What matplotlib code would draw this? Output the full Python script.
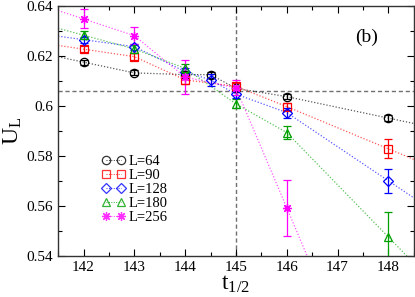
import matplotlib
matplotlib.use("Agg")
import matplotlib.pyplot as plt
import numpy as np

plt.rcParams['font.family'] = ['Liberation Serif', 'DejaVu Serif']
plt.rcParams['mathtext.fontset'] = 'custom'
plt.rcParams['mathtext.rm'] = 'Liberation Serif'
plt.rcParams['mathtext.it'] = 'Liberation Serif'

labels = ["L=64", "L=90", "L=128", "L=180", "L=256"]
colors = ["#000000", "#ff0000", "#0000ff", "#00a000", "#ff00ff"]
markers = ["o", "s", "D", "^", (8, 2, 0)]

x64 = [142, 143, 144, 144.5, 145, 146, 148]
y64 = [0.6175, 0.6132, 0.6125, 0.6125, 0.6070, 0.6037, 0.5951]
e64 = [0.0010, 0.0010, 0.0010, 0.0012, 0.0010, 0.0010, 0.0012]

x90 = [142, 143, 144, 145, 146, 148]
y90 = [0.6227, 0.6197, 0.6104, 0.6078, 0.5997, 0.5828]
e90 = [0.0012, 0.0014, 0.0015, 0.0015, 0.0015, 0.0038]

x128 = [142, 143, 144, 144.5, 145, 146, 148]
y128 = [0.6265, 0.6237, 0.6137, 0.6104, 0.6047, 0.5973, 0.5700]
e128 = [0.0012, 0.0012, 0.0015, 0.0025, 0.0015, 0.0020, 0.0048]

x180 = [142, 143, 144, 145, 146, 148]
y180 = [0.6283, 0.6228, 0.6150, 0.6008, 0.5893, 0.5475]
e180 = [0.0015, 0.0015, 0.0018, 0.0018, 0.0025, 0.0100]

x256 = [142, 143, 144, 145, 146]
y256 = [0.6348, 0.6281, 0.6115, 0.6072, 0.5592]
e256 = [0.0038, 0.0035, 0.0068, 0.0030, 0.0112]

xs = [x64, x90, x128, x180, x256]
ys = [y64, y90, y128, y180, y256]
es = [e64, e90, e128, e180, e256]

xlim = (141.5, 148.5)
ylim = (0.54, 0.64)
tc_x = 145
tc_y = 0.606

fig = plt.figure(figsize=(4.15, 2.97), dpi=100)
ax = fig.add_axes([0.14, 0.139, 0.857, 0.841])

for x, y, e, c, m, lab in zip(xs, ys, es, colors, markers, labels):
    x = np.array(x, float); y = np.array(y, float)
    sl = (y[1] - y[0]) / (x[1] - x[0])
    sr = (y[-1] - y[-2]) / (x[-1] - x[-2])
    lx = np.concatenate([[xlim[0]], x, [xlim[1]]])
    ly = np.concatenate([[y[0] + sl * (xlim[0] - x[0])], y, [y[-1] + sr * (xlim[1] - x[-1])]])
    ax.plot(lx, ly, ls=(0, (1, 1.5)), lw=0.9, color=c, alpha=0.65, zorder=2)
    ms = 6.5 if isinstance(m, tuple) else (5.2 if m == "D" else 6)
    ax.errorbar(x, y, yerr=e, fmt='none', ecolor=c,
                elinewidth=0.9, capsize=3, capthick=0.9, zorder=3)
    ax.plot(x, y, ls='none', marker=m, mfc='none', mec=c, ms=ms, mew=0.9, zorder=4)
    ax.plot([], [], marker=m, mfc='none', mec=c, ms=ms, mew=0.9, color=c,
            ls=(0, (1, 1.5)), lw=0.7, alpha=0.8, label=lab)

ax.axvline(tc_x, color='#707070', ls=(0, (3, 2)), lw=1.0, zorder=1)
ax.axhline(tc_y, color='#707070', ls=(0, (3, 2)), lw=1.0, zorder=1)

ax.set_xlim(*xlim)
ax.set_ylim(*ylim)
ax.set_xticks([142, 143, 144, 145, 146, 147, 148])
ax.set_xticks(np.arange(141.5, 148.6, 0.5), minor=True)
ax.set_yticks([0.54, 0.56, 0.58, 0.6, 0.62, 0.64])
ax.set_yticklabels(["0.54", "0.56", "0.58", "0.6", "0.62", "0.64"])
ax.set_yticks(np.arange(0.54, 0.6401, 0.01), minor=True)
ax.tick_params(which='both', direction='in', top=True, right=True, labelsize=11)
ax.tick_params(which='major', length=5, width=0.8)
ax.tick_params(which='minor', length=3, width=0.8)
for s in ax.spines.values():
    s.set_linewidth(1.0)
    s.set_color('#333333')

ax.set_xlabel(r"t$_{1/2}$", fontsize=17, labelpad=0)
ax.set_ylabel(r"U$_{\rm L}$", fontsize=17, labelpad=2)
fig.text(355 / 415, 1 - 37 / 297, "(b)", fontsize=14, va='center', ha='left')

leg = ax.legend(loc='upper left', bbox_to_anchor=(0.115, 0.415), frameon=False,
                numpoints=2, fontsize=10.5, handlelength=1.6, handletextpad=0.2,
                labelspacing=0.05, borderpad=0.2, borderaxespad=0)

fig.savefig("out.png", dpi=100)
